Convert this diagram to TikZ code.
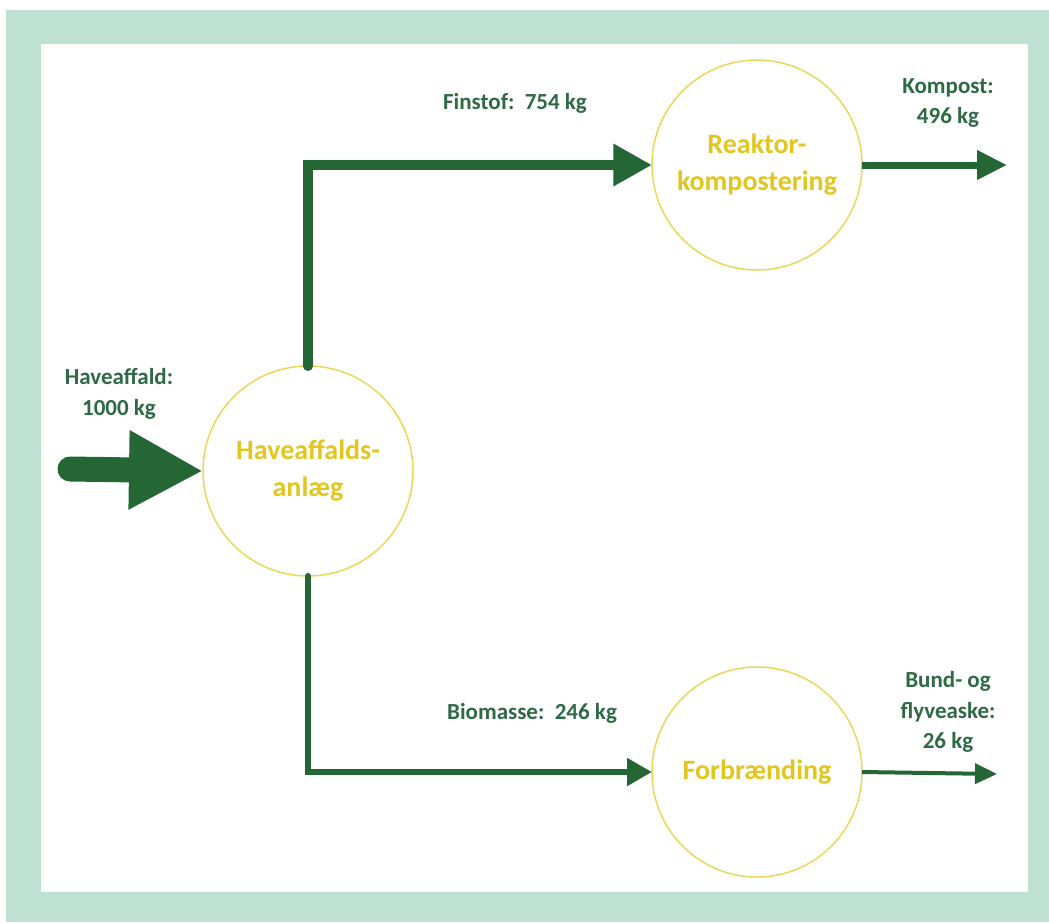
\documentclass[tikz,border=0pt]{standalone}
\usepackage{fontspec}
\setmainfont{Carlito}
\usetikzlibrary{arrows.meta}
\definecolor{mint}{RGB}{191,225,211}
\definecolor{flow}{RGB}{36,102,52}
\definecolor{lbl}{RGB}{46,106,68}
\definecolor{ring}{RGB}{233,215,85}
\definecolor{ringtext}{RGB}{226,198,32}
\begin{document}
\begin{tikzpicture}[x=0.75pt,y=-0.75pt,
  unit/.style={circle,draw=ring,line width=1.1pt,minimum size=157.5pt,
    inner sep=0pt,outer sep=0pt,text=ringtext,align=center,
    font=\bfseries\fontsize{21}{27.75}\selectfont},
  qty/.style={text=lbl,align=center,
    font=\bfseries\fontsize{17.25}{22.75}\selectfont},
  flowline/.style={draw=flow,line join=miter}]

% frame and white panel
\useasboundingbox (0,0) rectangle (1049,922);
\fill[mint] (6,10) rectangle (1049,922);
\fill[white] (41,44) rectangle (1028,892);

% process units
\node[unit] (plant)   at (308,471) {Haveaffalds-\\anlæg};
\node[unit] (reactor) at (757,165) {Reaktor-\\kompostering};
\node[unit] (burn)    at (757,772) {Forbrænding};

% free ends of the flows
\coordinate (src)     at (70,469);
\coordinate (compost) at (1007,165);
\coordinate (ash)     at (997,774);

% mass flows
\draw[flowline,line width=18.75pt,line cap=round,
  -{Triangle[length=55.5pt,width=55.5pt]}] (src) -- (plant.west);
\draw[flowline,line width=7.5pt,line cap=round,
  -{Triangle[length=29pt,width=30pt]}] (plant.north) |- (reactor.west);
\draw[flowline,line width=4.5pt,line cap=round,
  -{Triangle[length=18.75pt,width=20pt]}] (plant.south) |- (burn.west);
\draw[flowline,line width=5.25pt,
  -{Triangle[length=22.5pt,width=21pt]}] (reactor.east) -- (compost);
\draw[flowline,line width=3pt,
  -{Triangle[length=16.5pt,width=15pt]}] (burn.east) -- (ash);

% quantities
\node[qty] (l-in)   at (119,394) {Haveaffald:\\1000 kg};
\node[qty] (l-fine) at (515,103) {Finstof:\ \ 754 kg};
\node[qty] (l-comp) at (948,103) {Kompost:\\496 kg};
\node[qty] (l-bio)  at (532,713) {Biomasse:\ \ 246 kg};
\node[qty] (l-ash)  at (948,712) {Bund- og\\flyveaske:\\26 kg};
\end{tikzpicture}
\end{document}
